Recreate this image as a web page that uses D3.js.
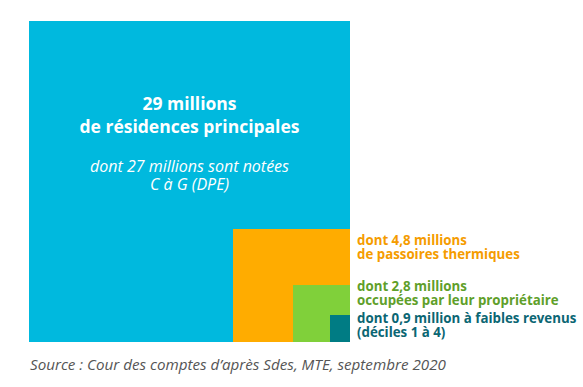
<!DOCTYPE html>
<html lang="fr">
<head>
<meta charset="utf-8">
<title>Résidences principales</title>
<script src="https://cdn.jsdelivr.net/npm/d3@7"></script>
<style>
  body { margin: 0; background: #fff; }
  svg text { font-family: "Open Sans", Lato, sans-serif; }
  .main { fill: #fff; font-weight: 700; font-size: 17.5px; }
  .sub { fill: #fff; font-style: italic; font-size: 16px; }
  .lbl { font-weight: 700; font-size: 13.3px; }
  .source { fill: #555; font-style: italic; font-size: 15.2px; }
</style>
</head>
<body>
<script>
// data
var categories = ["total", "passoires", "proprietaires", "modestes"];
var values = [29, 4.8, 2.8, 0.9];
var labelLines = [
  ["29 millions", "de résidences principales"],
  ["dont 4,8 millions", "de passoires thermiques"],
  ["dont 2,8 millions", "occupées par leur propriétaire"],
  ["dont 0,9 million à faibles revenus", "(déciles 1 à 4)"]
];
var subLines = ["dont 27 millions sont notées", "C à G (DPE)"];
var sourceText = "Source : Cour des comptes d’après Sdes, MTE, septembre 2020";

var width = 583, height = 387;
var right = 350, bottom = 342; // squares share the bottom-right corner

var svg = d3.select("body").append("svg")
  .attr("width", width)
  .attr("height", height);

// side scales (the drawing is not strictly proportional)
var wScale = d3.scaleLinear().domain([0, 0.9, 2.8, 4.8, 29]).range([0, 20, 57, 117, 321]);
var hScale = d3.scaleLinear().domain([0, 0.9, 2.8, 4.8, 29]).range([0, 27, 57, 113, 321]);

var fill = d3.scaleOrdinal()
  .domain(categories)
  .range(["#00b9de", "#ffac00", "#80d03a", "#007c84"]);
var textColor = d3.scaleOrdinal()
  .domain(categories)
  .range(["#fff", "#f59c00", "#5f9f2a", "#0b6673"]);

var data = categories.map(function(c, i) {
  return { key: c, value: values[i], lines: labelLines[i] };
});

svg.selectAll("rect.sq")
  .data(data).enter()
  .append("rect")
  .attr("class", "sq")
  .attr("x", function(d) { return right - wScale(d.value); })
  .attr("y", function(d) { return bottom - hScale(d.value); })
  .attr("width", function(d) { return wScale(d.value); })
  .attr("height", function(d) { return hScale(d.value); })
  .attr("fill", function(d) { return fill(d.key); });

// text in the big square
var big = data[0];
var cx = right - wScale(big.value) / 2;
var bigTop = bottom - hScale(big.value);

svg.append("text")
  .attr("class", "main")
  .attr("text-anchor", "middle")
  .selectAll("tspan")
  .data(big.lines).enter()
  .append("tspan")
  .attr("x", cx)
  .attr("y", function(d, i) { return bigTop + 89 + i * 23; })
  .text(function(d) { return d; });

svg.append("text")
  .attr("class", "sub")
  .attr("text-anchor", "middle")
  .selectAll("tspan")
  .data(subLines).enter()
  .append("tspan")
  .attr("x", cx)
  .attr("y", function(d, i) { return bigTop + 151 + i * 18; })
  .text(function(d) { return d; });

// labels on the right
var labelY = [0, 245, 291, 323];
svg.selectAll("text.lbl")
  .data(data.slice(1)).enter()
  .append("text")
  .attr("class", "lbl")
  .attr("fill", function(d) { return textColor(d.key); })
  .each(function(d, i) {
    d3.select(this).selectAll("tspan")
      .data(d.lines).enter()
      .append("tspan")
      .attr("x", right + 7)
      .attr("y", function(l, j) { return labelY[i + 1] + j * 14; })
      .text(function(l) { return l; });
  });

svg.append("text")
  .attr("class", "source")
  .attr("x", 30)
  .attr("y", 370)
  .text(sourceText);
</script>
</body>
</html>
